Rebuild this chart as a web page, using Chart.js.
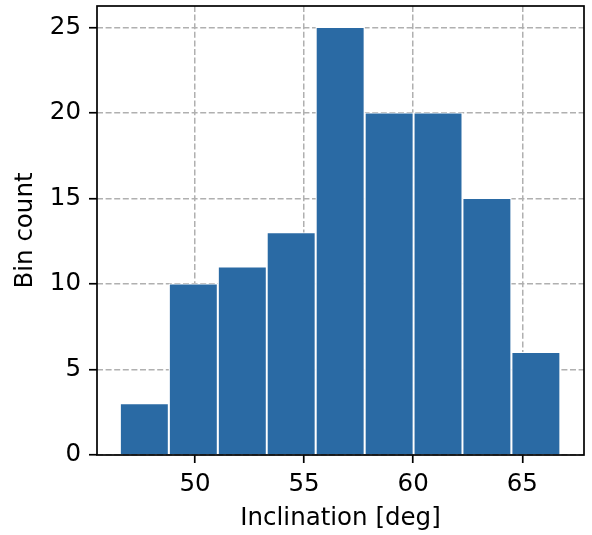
<!DOCTYPE html>
<html>
<head>
<meta charset="utf-8">
<script src="https://cdn.jsdelivr.net/npm/chart.js@4"></script>
<style>
html, body { margin: 0; padding: 0; background: #fff; }
canvas { display: block; }
</style>
</head>
<body>
<canvas id="grafico" width="592" height="535"></canvas>
<script>
// histogram bins
const binEdges = [46.56, 48.80, 51.05, 53.29, 55.53, 57.78, 60.02, 62.26, 64.50, 66.75];
const binCounts = [3, 10, 11, 13, 25, 20, 20, 15, 6];
const xTicks = [50, 55, 60, 65];
const yTicks = [0, 5, 10, 15, 20, 25];
const xLabel = 'Inclination [deg]';
const yLabel = 'Bin count';

const bars = binCounts.map((c, i) => ({ x: (binEdges[i] + binEdges[i + 1]) / 2, y: c }));

Chart.defaults.font.family = 'DejaVu Sans';
Chart.defaults.font.size = 24.5;
Chart.defaults.color = '#000';

// black box round the plot, like matplotlib spines
const frame = {
  id: 'frame',
  afterDraw(chart) {
    const { ctx, chartArea: a } = chart;
    ctx.save();
    ctx.setLineDash([]);
    ctx.strokeStyle = '#000';
    ctx.lineWidth = 1.7;
    ctx.strokeRect(a.left, a.top, a.right - a.left, a.bottom - a.top);
    ctx.restore();
  }
};

const ctx = document.getElementById('grafico').getContext('2d');
const myChart = new Chart(ctx, {
  type: 'bar',
  data: {
    datasets: [{
      data: bars,
      backgroundColor: 'rgb(42,106,164)',
      borderColor: '#fff',
      borderWidth: { left: 1.3, right: 1.3, top: 1, bottom: 0 },
      borderSkipped: false,
      barPercentage: 1,
      categoryPercentage: 1
    }]
  },
  options: {
    responsive: false,
    animation: false,
    layout: { padding: { left: 0, top: 6, right: 8, bottom: 0 } },
    plugins: { legend: { display: false }, tooltip: { enabled: false } },
    scales: {
      x: {
        type: 'linear',
        min: 45.51,
        max: 67.83,
        offset: false,
        z: 1,
        afterBuildTicks: s => { s.ticks = xTicks.map(v => ({ value: v })); },
        afterFit: s => { s.height = 80; s.paddingLeft = 0; s.paddingRight = 0; },
        grid: { color: '#b0b0b0', lineWidth: 1.5, offset: false, tickColor: '#000', tickWidth: 1.7, tickLength: 8 },
        border: { display: false, dash: [6, 2.6] },
        ticks: { padding: 7, maxRotation: 0 },
        title: { display: true, text: xLabel, padding: { top: 0, bottom: 2 } }
      },
      y: {
        min: 0,
        max: 26.25,
        z: 1,
        afterBuildTicks: s => { s.ticks = yTicks.map(v => ({ value: v })); },
        afterFit: s => { s.width = 97; s.paddingTop = 0; s.paddingBottom = 0; },
        grid: { color: '#b0b0b0', lineWidth: 1.5, tickColor: '#000', tickWidth: 1.7, tickLength: 8 },
        border: { display: false, dash: [6, 2.6] },
        ticks: { padding: 8 },
        title: { display: true, text: yLabel, padding: { top: 11, bottom: 0 } }
      }
    }
  },
  plugins: [frame]
});
</script>
</body>
</html>
